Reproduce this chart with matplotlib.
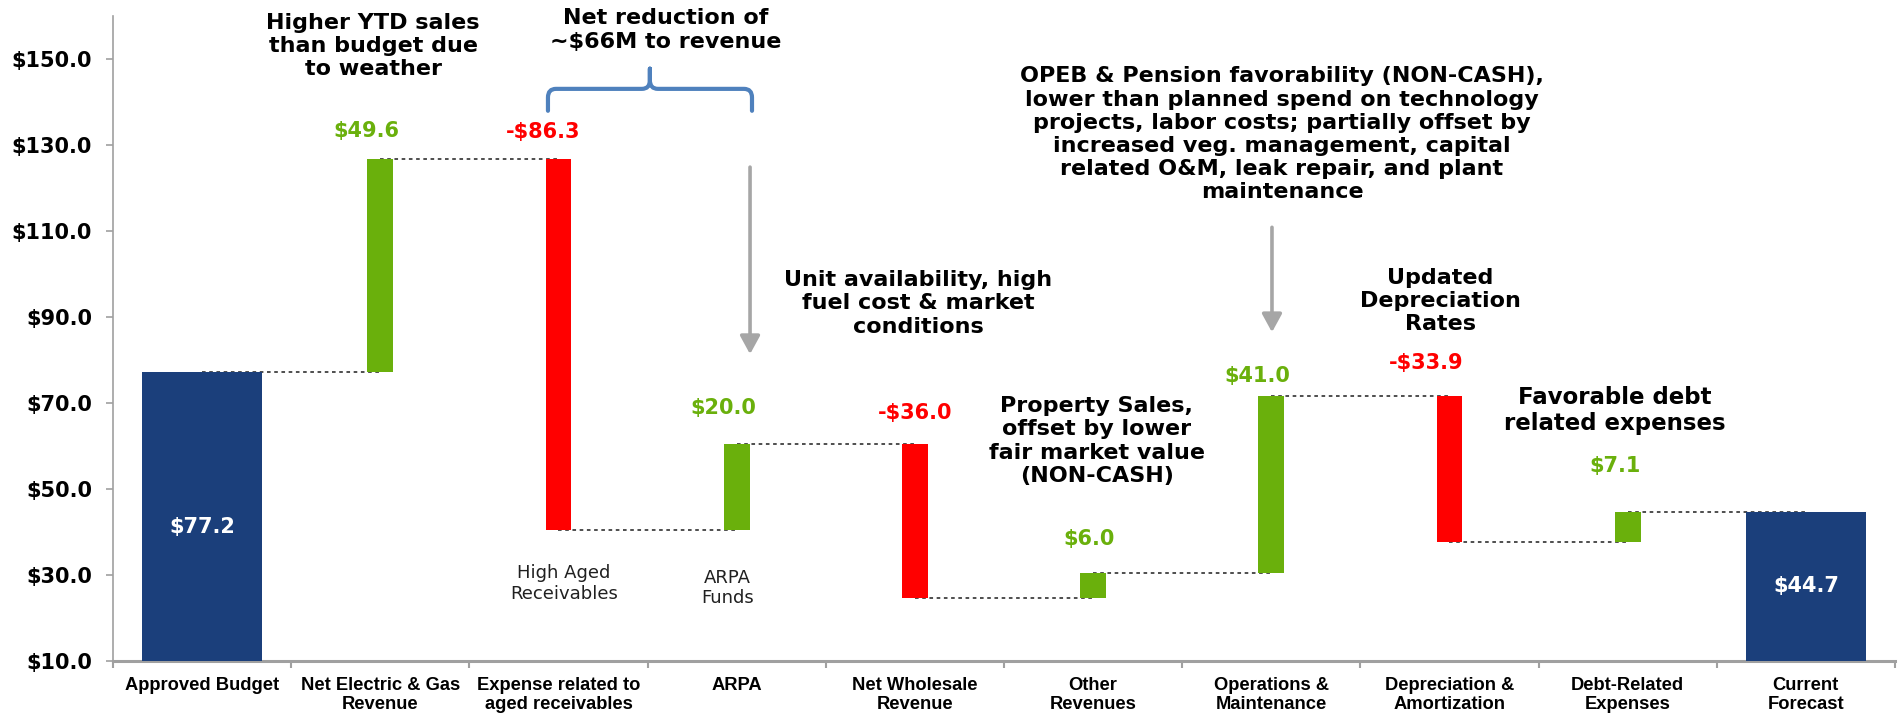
import matplotlib
matplotlib.use("Agg")
import matplotlib.pyplot as plt
import numpy as np
from matplotlib.path import Path
from matplotlib.patches import PathPatch

# data
categories = ['Approved Budget', 'Net Electric & Gas\nRevenue', 'Expense related to\naged receivables',
              'ARPA', 'Net Wholesale\nRevenue', 'Other\nRevenues', 'Operations &\nMaintenance',
              'Depreciation &\nAmortization', 'Debt-Related\nExpenses', 'Current\nForecast']
start_value = 77.2
changes = [49.6, -86.3, 20.0, -36.0, 6.0, 41.0, -33.9, 7.1]
end_value = 44.7
yticks = [10, 30, 50, 70, 90, 110, 130, 150]

# label nudges (x in categories, y in $M) to sit like the original boxes
lab_dx = [-0.08, -0.085, -0.075, 0.0, -0.02, -0.08, -0.13, -0.07]
lab_dy = [6.5, 6.1, 8.2, 7.2, 7.7, 4.7, 7.8, 10.5]

NAVY = '#1b3f7b'
GREEN = '#6ab00c'
RED = '#ff0000'
GREY = '#a6a6a6'
BOLD = ['DejaVu Sans']
NARROW = ['Liberation Sans Narrow', 'Liberation Sans', 'DejaVu Sans']

fig = plt.figure(figsize=(19.02, 7.17), dpi=100)
ax = fig.add_axes([0.0594, 0.0785, 0.9369, 0.8995])

n = len(categories)
x = np.arange(n)

# cumulative levels
levels = [start_value]
for c in changes:
    levels.append(levels[-1] + c)

# total bars
ax.bar([0, n - 1], [start_value - 10, end_value - 10], bottom=10, width=0.67, color=NAVY, zorder=3)
ax.text(0, (10 + start_value) / 2 - 2.4, f'${start_value:.1f}', color='white', fontsize=15, fontweight='bold',
        ha='center', va='center', family=BOLD, zorder=4)
ax.text(n - 1, (10 + end_value) / 2, f'${end_value:.1f}', color='white', fontsize=15, fontweight='bold',
        ha='center', va='center', family=BOLD, zorder=4)

# floating bars
for i, c in enumerate(changes):
    lo = min(levels[i], levels[i + 1])
    col = GREEN if c > 0 else RED
    ax.bar(i + 1, abs(c), bottom=lo, width=0.145, color=col, zorder=3)
    txt = f'${c:.1f}' if c > 0 else f'-${abs(c):.1f}'
    top = max(levels[i], levels[i + 1])
    ax.text(i + 1 + lab_dx[i], top + lab_dy[i], txt, color=col, fontsize=15, fontweight='bold',
            ha='center', va='center', family=BOLD)

# dotted connectors
for i in range(len(levels)):
    ax.plot([i, i + 1], [levels[i], levels[i]], color='#404040', lw=1.3, linestyle=(0, (2, 2)), zorder=2)

# notes
note_kw = dict(fontsize=16, fontweight='bold', ha='center', va='center', family=BOLD, linespacing=1.2)
ax.text(0.96, 153.0, 'Higher YTD sales\nthan budget due\nto weather', **note_kw)
ax.text(2.60, 156.7, 'Net reduction of\n~$66M to revenue', **note_kw)
ax.text(4.02, 93.1, 'Unit availability, high\nfuel cost & market\nconditions', **note_kw)
ax.text(5.02, 61.1, 'Property Sales,\noffset by lower\nfair market value\n(NON-CASH)', **note_kw)
ax.text(6.06, 132.4, 'OPEB & Pension favorability (NON-CASH),\nlower than planned spend on technology\n'
        'projects, labor costs; partially offset by\nincreased veg. management, capital\n'
        'related O&M, leak repair, and plant\nmaintenance', **note_kw)
ax.text(6.95, 93.6, 'Updated\nDepreciation\nRates', **note_kw)
ax.text(7.93, 68.1, 'Favorable debt\nrelated expenses', **{**note_kw, 'fontsize': 16.5, 'linespacing': 1.16})

small_kw = dict(fontsize=13, ha='center', va='center', family=['DejaVu Sans'], color='#202020', linespacing=1.2)
ax.text(2.03, 27.9, 'High Aged\nReceivables', **small_kw)
ax.text(2.95, 26.9, 'ARPA\nFunds', **small_kw)

# grey arrows
arr = dict(arrowstyle='-|>,head_length=0.55,head_width=0.3', color=GREY, lw=2.6,
           shrinkA=0, shrinkB=0, mutation_scale=20)
ax.annotate('', xy=(3.075, 81.3), xytext=(3.075, 124.8), arrowprops=arr)
ax.annotate('', xy=(6.004, 86.4), xytext=(6.004, 110.8), arrowprops=arr)

# brace
x0, xm, x1 = 1.941, 2.513, 3.086
yh, ye, yt = 143.0, 137.9, 147.7
rx, ry = 0.045, 2.0
verts = [(x0, ye), (x0, yh - ry), (x0, yh), (x0 + rx, yh), (xm - rx, yh), (xm, yh), (xm, yh + ry),
         (xm, yt), (xm, yh + ry), (xm, yh), (xm + rx, yh), (x1 - rx, yh), (x1, yh), (x1, yh - ry), (x1, ye)]
codes = [Path.MOVETO, Path.LINETO, Path.CURVE3, Path.CURVE3, Path.LINETO, Path.CURVE3, Path.CURVE3,
         Path.LINETO, Path.LINETO, Path.CURVE3, Path.CURVE3, Path.LINETO, Path.CURVE3, Path.CURVE3, Path.LINETO]
ax.add_patch(PathPatch(Path(verts, codes), fill=False, edgecolor='#4f81bd', lw=3, capstyle='round',
                       joinstyle='round', clip_on=False))

# axes styling
ax.set_xlim(-0.5, n - 0.5)
ax.set_ylim(10, 160)
ax.set_yticks(yticks)
ax.set_yticklabels([f'${v:.1f}' for v in yticks], fontsize=15, fontweight='bold', family=BOLD)
ax.set_xticks(x)
ax.set_xticklabels(categories, fontsize=13.2, fontweight='bold', family=NARROW, linespacing=1.15)
ax.set_xticks(np.arange(-0.5, n, 1.0), minor=True)
ax.tick_params(axis='x', which='major', length=0, pad=12)
ax.tick_params(axis='x', which='minor', length=5, width=1.5, color='#a0a0a0')
ax.tick_params(axis='y', length=5, width=1.2, color='#a0a0a0', pad=10)
for s in ['top', 'right']:
    ax.spines[s].set_visible(False)
ax.spines['left'].set_color('#a0a0a0')
ax.spines['left'].set_linewidth(1.2)
ax.spines['bottom'].set_color('#a0a0a0')
ax.spines['bottom'].set_linewidth(2.2)

fig.savefig('out.png', dpi=100)
